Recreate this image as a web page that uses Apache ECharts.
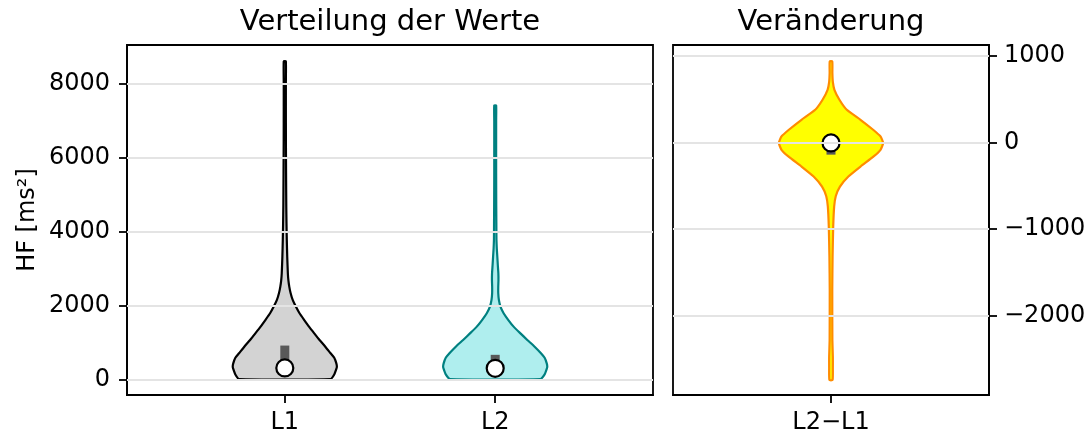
<!DOCTYPE html>
<html><head><meta charset="utf-8">
<script src="https://cdn.jsdelivr.net/npm/echarts@6/dist/echarts.min.js"></script>
<style>html,body{margin:0;padding:0;background:#fff}#c{width:1091px;height:437px}</style>
</head><body><div id="c"></div>
<script>
// ---- data ----
const leftCategories = ['L1', 'L2'];
const rightCategories = ['L2−L1'];
const leftTicks = [0, 2000, 4000, 6000, 8000];
const rightTicks = [-2000, -1000, 0, 1000];

// violin density profiles (value, relative half-width)
const l1Values = [24, 150, 300, 360, 450, 600, 722, 900, 1082, 1260, 1442, 1620, 1804, 1984, 2164, 2350, 2525, 2700, 2886, 3337, 3790, 4240, 4690, 5600, 6500, 7400, 8000, 8612];
const l1Widths = [0.87, 0.94, 0.98, 0.99, 0.98, 0.94, 0.87, 0.77, 0.66, 0.56, 0.46, 0.37, 0.28, 0.21, 0.15, 0.11, 0.085, 0.068, 0.058, 0.046, 0.038, 0.032, 0.028, 0.024, 0.021, 0.02, 0.02, 0.02];
const l2Values = [24, 150, 300, 360, 450, 600, 722, 900, 1082, 1260, 1442, 1620, 1804, 1984, 2164, 2350, 2525, 2700, 2886, 3100, 3337, 3560, 3790, 4240, 4690, 5600, 6500, 7000, 7421];
const l2Widths = [0.86, 0.94, 0.98, 0.99, 0.98, 0.94, 0.87, 0.75, 0.61, 0.48, 0.35, 0.25, 0.16, 0.1, 0.07, 0.058, 0.058, 0.062, 0.06, 0.05, 0.04, 0.03, 0.024, 0.022, 0.02, 0.018, 0.018, 0.018, 0.018];
const dValues = [-2738, -2600, -2470, -2280, -1700, -1315, -970, -740, -620, -508, -392, -277, -161, -84, -7, 70, 147, 262, 377, 493, 608, 700, 801, 935];
const dWidths = [0.03, 0.035, 0.035, 0.026, 0.024, 0.03, 0.042, 0.06, 0.09, 0.17, 0.33, 0.56, 0.81, 0.94, 0.99, 0.94, 0.8, 0.56, 0.3, 0.16, 0.065, 0.035, 0.026, 0.024];

const medians = { L1: 325, L2: 315, D: -5 };
const quartiles = { L1: [120, 930], L2: [130, 680], D: [-140, 30] };

// ---- drawing ----
const HALF = 0.25;
const FONT = 'DejaVu Sans';

function violin(values, widths, fill, stroke) {
  return function (params, api) {
    const pos = api.value(0);
    const right = values.map((v, i) => api.coord([pos + widths[i] * HALF, v]));
    const left = values.map((v, i) => api.coord([pos - widths[i] * HALF, v])).reverse();
    return {
      type: 'polygon',
      shape: { points: right.concat(left), smooth: 0.15 },
      style: { fill: fill, stroke: stroke, lineWidth: 2.2, lineJoin: 'round' }
    };
  };
}
function iqr(q) {
  return function (params, api) {
    const pos = api.value(0);
    const top = api.coord([pos, q[1]]);
    const bot = api.coord([pos, q[0]]);
    return { type: 'rect', shape: { x: top[0] - 4.5, y: top[1], width: 9, height: bot[1] - top[1] }, style: { fill: '#595959' } };
  };
}
const plainFmt = v => String(v);
const minusFmt = v => (v < 0 ? '−' + Math.abs(v) : String(v));
const gridLine = { color: '#e4e4e4', width: 1.8, type: 'solid' };

const axisCommon = {
  axisLine: { show: true, onZero: false, lineStyle: { color: '#000', width: 1.8 } },
  axisTick: { show: true, length: 8, lineStyle: { color: '#000', width: 1.8 } },
  splitLine: { show: false },
  axisLabel: { color: '#000', fontFamily: FONT, fontSize: 24 }
};
const titleStyle = { fontFamily: FONT, fontSize: 29, fontWeight: 'normal', color: '#000' };

const option = {
  backgroundColor: '#fff',
  animation: false,
  title: [
    { text: 'Verteilung der Werte', left: 390, top: 8, padding: 0, textAlign: 'center', textStyle: titleStyle },
    { text: 'Veränderung', left: 831, top: 8, padding: 0, textAlign: 'center', textStyle: titleStyle }
  ],
  grid: [
    { left: 127, top: 45, width: 526, height: 350, show: true, borderColor: '#000', borderWidth: 1.8, backgroundColor: 'transparent' },
    { left: 673, top: 45, width: 316, height: 350, show: true, borderColor: '#000', borderWidth: 1.8, backgroundColor: 'transparent' }
  ],
  xAxis: [
    Object.assign({}, axisCommon, {
      type: 'value', gridIndex: 0, min: 0.25, max: 2.75,
      axisTick: Object.assign({}, axisCommon.axisTick, { customValues: [1, 2] }),
      axisLabel: Object.assign({}, axisCommon.axisLabel, { customValues: [1, 2], margin: 16, formatter: v => leftCategories[Math.round(v) - 1] })
    }),
    Object.assign({}, axisCommon, {
      type: 'value', gridIndex: 1, min: 0.25, max: 1.75,
      axisTick: Object.assign({}, axisCommon.axisTick, { customValues: [1] }),
      axisLabel: Object.assign({}, axisCommon.axisLabel, { customValues: [1], margin: 16, formatter: v => rightCategories[Math.round(v) - 1] })
    })
  ],
  yAxis: [
    Object.assign({}, axisCommon, {
      type: 'value', gridIndex: 0, min: -406, max: 9055,
      name: 'HF [ms²]', nameLocation: 'middle', nameGap: 87, nameRotate: 90,
      nameTextStyle: { fontFamily: FONT, fontSize: 24, color: '#000' },
      axisTick: Object.assign({}, axisCommon.axisTick, { customValues: leftTicks }),
      axisLabel: Object.assign({}, axisCommon.axisLabel, { customValues: leftTicks, margin: 17, formatter: plainFmt })
    }),
    Object.assign({}, axisCommon, {
      type: 'value', gridIndex: 1, min: -2911, max: 1124, position: 'right',
      axisTick: Object.assign({}, axisCommon.axisTick, { customValues: rightTicks }),
      axisLabel: Object.assign({}, axisCommon.axisLabel, { customValues: rightTicks, margin: 15, formatter: minusFmt })
    })
  ],
  series: [
    { type: 'line', xAxisIndex: 0, yAxisIndex: 0, data: [], z: 1, markLine: { silent: true, symbol: 'none', label: { show: false }, lineStyle: gridLine, data: leftTicks.map(v => ({ yAxis: v })) } },
    { type: 'line', xAxisIndex: 1, yAxisIndex: 1, data: [], z: 1, markLine: { silent: true, symbol: 'none', label: { show: false }, lineStyle: gridLine, data: rightTicks.map(v => ({ yAxis: v })) } },
    { type: 'custom', xAxisIndex: 0, yAxisIndex: 0, z: 2, data: [[1, medians.L1]], renderItem: violin(l1Values, l1Widths, '#d3d3d3', '#000000') },
    { type: 'custom', xAxisIndex: 0, yAxisIndex: 0, z: 2, data: [[2, medians.L2]], renderItem: violin(l2Values, l2Widths, '#afeeee', '#008080') },
    { type: 'custom', xAxisIndex: 1, yAxisIndex: 1, z: 2, data: [[1, medians.D]], renderItem: violin(dValues, dWidths, '#ffff00', '#ff8c00') },
    { type: 'custom', xAxisIndex: 0, yAxisIndex: 0, z: 3, data: [[1, medians.L1]], renderItem: iqr(quartiles.L1) },
    { type: 'custom', xAxisIndex: 0, yAxisIndex: 0, z: 3, data: [[2, medians.L2]], renderItem: iqr(quartiles.L2) },
    { type: 'custom', xAxisIndex: 1, yAxisIndex: 1, z: 3, data: [[1, medians.D]], renderItem: iqr(quartiles.D) },
    { type: 'scatter', xAxisIndex: 0, yAxisIndex: 0, z: 4, symbolSize: 17, data: [[1, medians.L1], [2, medians.L2]], itemStyle: { color: '#fff', borderColor: '#000', borderWidth: 2.2, opacity: 1 } },
    { type: 'scatter', xAxisIndex: 1, yAxisIndex: 1, z: 4, symbolSize: 17, data: [[1, medians.D]], itemStyle: { color: '#fff', borderColor: '#000', borderWidth: 2.2, opacity: 1 } }
  ]
};
const chart = echarts.init(document.getElementById('c'), null, { renderer: 'canvas' });
chart.setOption(option);
</script></body></html>
